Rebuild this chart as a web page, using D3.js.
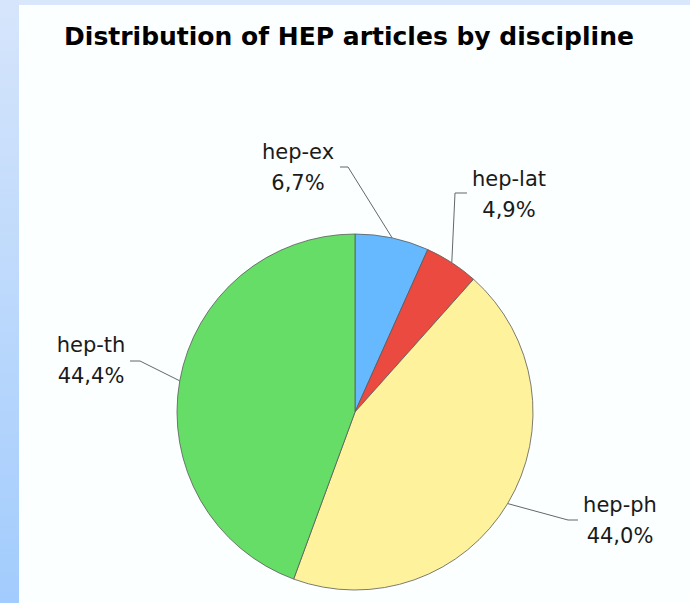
<!DOCTYPE html>
<html lang="en">
<head>
<meta charset="utf-8">
<title>Distribution of HEP articles by discipline</title>
<script src="https://d3js.org/d3.v7.min.js"></script>
<style>
  body { margin: 0; overflow: hidden; }
  text { font-family: "DejaVu Sans", Verdana, sans-serif; fill: #1a1a1a; }
</style>
</head>
<body>
<svg width="690" height="603"></svg>
<script>
// data (clockwise from 12 o'clock)
var categories = ["hep-ex", "hep-lat", "hep-ph", "hep-th"];
var shares = [6.7, 4.9, 44.0, 44.4];
var colours = ["#66b8ff", "#ea4a3f", "#fff29c", "#66dd66"];

var svg = d3.select("svg");

var defs = svg.append("defs");
var grad = defs.append("linearGradient").attr("id", "side")
    .attr("x1", 0).attr("y1", 0).attr("x2", 0).attr("y2", 1);
grad.append("stop").attr("offset", "0%").attr("stop-color", "#d6e5fb");
grad.append("stop").attr("offset", "100%").attr("stop-color", "#a2ccfd");

// slide background: blue strips at left and top, near-white panel
svg.append("rect").attr("width", 690).attr("height", 603).attr("fill", "url(#side)");
svg.append("rect").attr("x", 19).attr("y", 0).attr("width", 671).attr("height", 5).attr("fill", "#d8e7fb");
svg.append("rect").attr("x", 19).attr("y", 5).attr("width", 671).attr("height", 598).attr("fill", "#fbffff");

svg.append("text")
    .attr("x", 349).attr("y", 45)
    .attr("text-anchor", "middle")
    .attr("font-size", 25)
    .attr("font-weight", "bold")
    .style("fill", "#000")
    .text("Distribution of HEP articles by discipline");

var cx = 355, cy = 412, r = 178;

var pie = d3.pie().sort(null).value(function(d) { return d; });
var arcs = pie(shares);
var arc = d3.arc().innerRadius(0).outerRadius(r);

var g = svg.append("g").attr("transform", "translate(" + cx + "," + cy + ")");

g.selectAll("path.slice")
  .data(arcs)
  .enter().append("path")
    .attr("class", "slice")
    .attr("d", arc)
    .attr("fill", function(d, i) { return colours[i]; })
    .attr("stroke", "#5a5a5a")
    .attr("stroke-width", 0.8);

// leader lines: arc point -> elbow -> short horizontal end
var elbows = [[-7, -245], [100, -219], [213, 108], [-215, -51]];
var ends = [[-15, -245], [112, -219], [223, 108], [-225, -51]];

g.selectAll("polyline.leader")
  .data(arcs)
  .enter().append("polyline")
    .attr("class", "leader")
    .attr("fill", "none")
    .attr("stroke", "#666")
    .attr("stroke-width", 1)
    .attr("points", function(d, i) {
      var a = (d.startAngle + d.endAngle) / 2;
      var p = [Math.sin(a) * r, -Math.cos(a) * r];
      return [p, elbows[i], ends[i]].map(function(q) { return q.join(","); }).join(" ");
    });

var labelX = [-57, 154, 265, -264];
var labelY = [-253, -226, 100, -60];

var lab = g.selectAll("g.label")
  .data(arcs)
  .enter().append("g")
    .attr("class", "label")
    .attr("transform", function(d, i) { return "translate(" + labelX[i] + "," + labelY[i] + ")"; });

lab.append("text")
    .attr("text-anchor", "middle")
    .attr("font-size", 21)
    .text(function(d, i) { return categories[i]; });

lab.append("text")
    .attr("text-anchor", "middle")
    .attr("font-size", 21)
    .attr("y", 31)
    .text(function(d, i) { return d3.format(".1f")(shares[i]).replace(".", ",") + "%"; });
</script>
</body>
</html>
